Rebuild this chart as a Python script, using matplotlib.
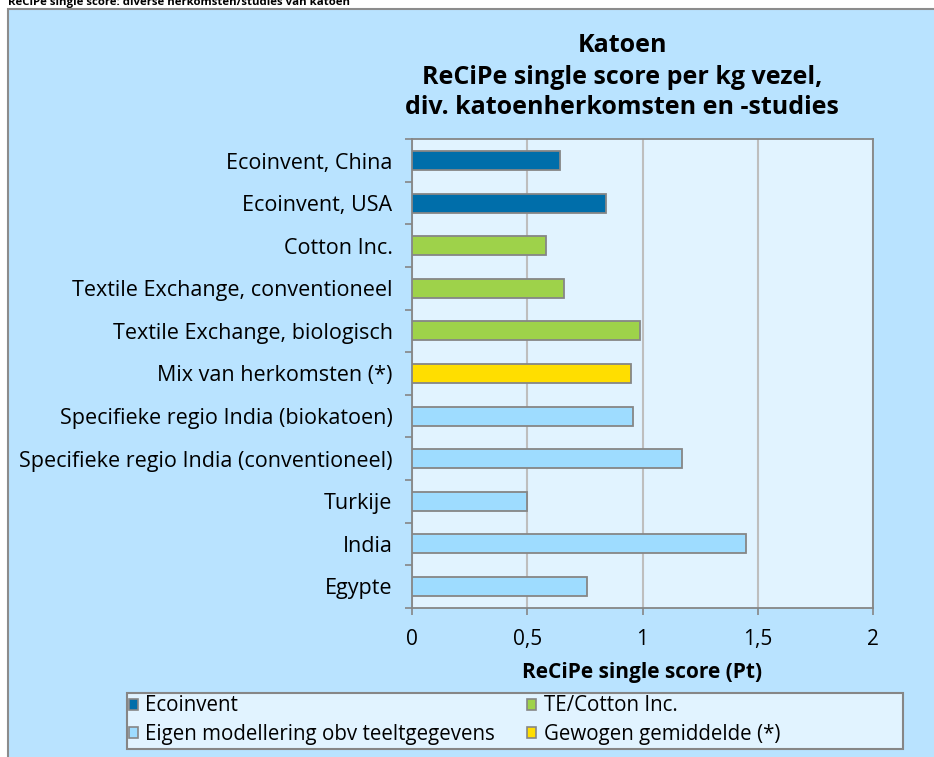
import matplotlib
matplotlib.use("Agg")
import matplotlib.pyplot as plt
from matplotlib.patches import Rectangle, Patch

# Data
categories = [
    "Ecoinvent, China",
    "Ecoinvent, USA",
    "Cotton Inc.",
    "Textile Exchange, conventioneel",
    "Textile Exchange, biologisch",
    "Mix van herkomsten (*)",
    "Specifieke regio India (biokatoen)",
    "Specifieke regio India (conventioneel)",
    "Turkije",
    "India",
    "Egypte",
]
scores = [0.64, 0.84, 0.58, 0.66, 0.99, 0.95, 0.96, 1.17, 0.50, 1.45, 0.76]
groups = ["eco", "eco", "te", "te", "te", "mix", "eigen", "eigen", "eigen", "eigen", "eigen"]

group_labels = {
    "eco": "Ecoinvent",
    "te": "TE/Cotton Inc.",
    "eigen": "Eigen modellering obv teeltgegevens",
    "mix": "Gewogen gemiddelde (*)",
}
group_colors = {
    "eco": "#006EAA",
    "te": "#9ED24A",
    "eigen": "#9EDCFF",
    "mix": "#FFDE00",
}
x_ticks = [0, 0.5, 1, 1.5, 2]
x_ticklabels = ["0", "0,5", "1", "1,5", "2"]

W, H = 934, 757
FONT = "Open Sans"
EDGE = "#868686"


def fx(px):
    return px / W


def fy(py):
    return 1 - py / H


fig = plt.figure(figsize=(W / 100, H / 100), dpi=100, facecolor="white")

# outer chart area
fig.patches.append(Rectangle((fx(8), fy(H + 20)), fx(W), fy(9.3) - fy(H + 20),
                             transform=fig.transFigure, facecolor="#B9E3FF",
                             edgecolor="#8C8C8C", lw=1.5, zorder=-5))

# header above the chart (cut off at the top)
fig.text(fx(8), fy(5), "ReCiPe single score: diverse herkomsten/studies van katoen",
         fontsize=8.2, fontweight="bold", family=FONT, va="baseline", ha="left")

ax = fig.add_axes([fx(412), fy(607.7), fx(873) - fx(412), fy(139.3) - fy(607.7)])
ax.set_facecolor("#E1F3FF")
ax.set_zorder(2)

ypos = list(range(len(categories)))
ax.barh(ypos, scores, height=0.45,
        color=[group_colors[g] for g in groups],
        edgecolor=EDGE, linewidth=1.3, zorder=3)

ax.set_xlim(0, 2)
ax.set_ylim(len(categories) - 0.5, -0.5)
ax.set_xticks(x_ticks)
ax.set_xticklabels(x_ticklabels, family=FONT, fontsize=15)
ax.set_yticks(ypos)
ax.set_yticklabels(categories, family=FONT, fontsize=15.5)
ax.set_yticks([i - 0.5 for i in range(len(categories) + 1)], minor=True)
ax.tick_params(axis="y", which="major", length=0, pad=14)
ax.tick_params(axis="y", which="minor", length=5, width=1.2, color=EDGE, direction="out")
ax.tick_params(axis="x", length=5, width=1.2, color=EDGE, direction="out", pad=10)

ax.grid(axis="x", color="#BEBEBE", linewidth=1.5, zorder=1)
ax.set_axisbelow(True)
for side in ax.spines.values():
    side.set_color(EDGE)
    side.set_linewidth(1.3)

ax.set_xlabel("ReCiPe single score (Pt)", family=FONT, fontsize=15,
              fontweight="bold", labelpad=9)

# title
title_lines = ["Katoen", "ReCiPe single score per kg vezel,",
               "div. katoenherkomsten en -studies"]
for line, py in zip(title_lines, [46, 77, 107]):
    fig.text(fx(622), fy(py), line, family=FONT, fontsize=18,
             fontweight="bold", ha="center", va="center")

# legend
fig.patches.append(Rectangle((fx(127), fy(749)), fx(903) - fx(127), fy(692.7) - fy(749),
                             transform=fig.transFigure, facecolor="#E1F3FF",
                             edgecolor=EDGE, lw=1.5, zorder=-1))
order = ["eco", "eigen", "te", "mix"]
handles = [Patch(facecolor=group_colors[k], edgecolor=EDGE, linewidth=1.2,
                 label=group_labels[k]) for k in order]
fig.legend(handles=handles, ncol=2, loc="center left",
           bbox_to_anchor=(fx(129), fy(720)), frameon=False,
           prop={"family": FONT, "size": 14.8}, handlelength=0.45, handleheight=0.45,
           handletextpad=0.35, columnspacing=1.55, labelspacing=0.35,
           borderpad=0.0, borderaxespad=0.0)

fig.savefig("out.png", dpi=100, facecolor="white")
